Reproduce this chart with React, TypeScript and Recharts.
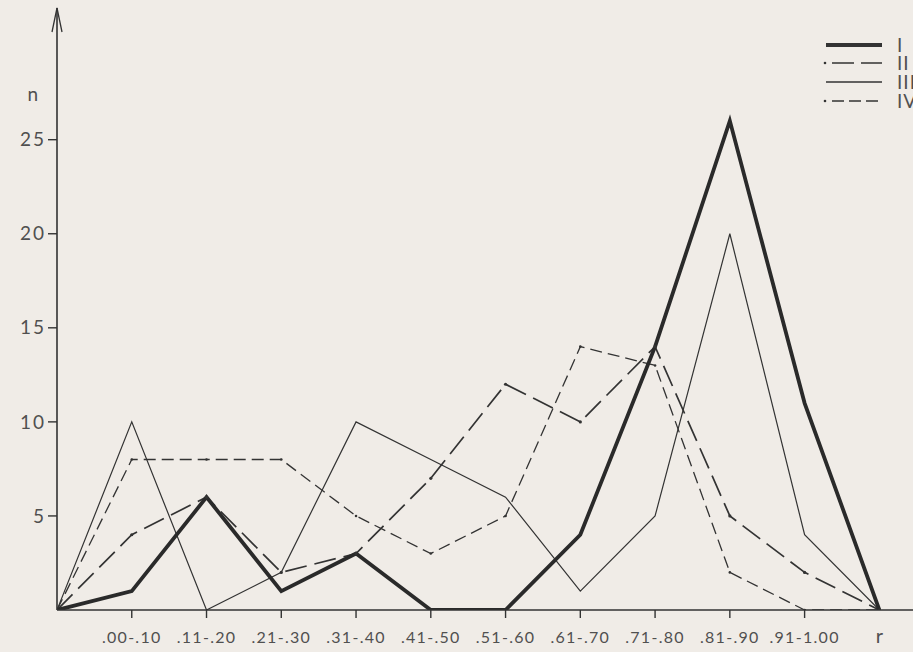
import React from 'react';
import { LineChart, Line, XAxis, YAxis, ReferenceDot } from 'recharts';

// positions 0..11: origin, ten r-classes, end point "r"
const categories = ['', '.00-.10', '.11-.20', '.21-.30', '.31-.40', '.41-.50', '.51-.60', '.61-.70', '.71-.80', '.81-.90', '.91-1.00', 'r'];
const seriesI = [0, 1, 6, 1, 3, 0, 0, 4, 14, 26, 11, 0];
const seriesII = [0, 4, 6, 2, 3, 7, 12, 10, 14, 5, 2, 0];
const seriesIII = [0, 10, 0, 2, 10, 8, 6, 1, 5, 20, 4, 0];
const seriesIV = [0, 8, 8, 8, 5, 3, 5, 14, 13, 2, 0, 0];
const yTicks = [5, 10, 15, 20, 25, 27.4];
const yTickLabels: Record<number, string> = { 5: '5', 10: '10', 15: '15', 20: '20', 25: '25', 27.4: 'n' };
const legendNames = ['I', 'II', 'III', 'IV'];

const data = categories.map((c, i) => ({
  x: i,
  I: seriesI[i],
  II: seriesII[i],
  III: seriesIII[i],
  IV: seriesIV[i],
}));

const ink = '#333';
const textColor = '#505050';
const font = 'Lato, "DejaVu Sans", sans-serif';

function XTick({ x, y, payload }: any) {
  const label = categories[payload.value];
  const isEnd = label === 'r';
  return (
    <g>
      {!isEnd && <line x1={x} y1={y} x2={x} y2={y + 8} stroke={ink} strokeWidth={1.4} />}
      <text
        x={x}
        y={y + 33}
        textAnchor="middle"
        fill={textColor}
        fontFamily={font}
        fontSize={isEnd ? 20 : 16}
        letterSpacing={isEnd ? 0 : 1.3}
      >
        {label}
      </text>
    </g>
  );
}

function YTick({ x, y, payload }: any) {
  const label = yTickLabels[payload.value];
  const isName = label === 'n';
  return (
    <g>
      {!isName && <line x1={x - 9} y1={y} x2={x} y2={y} stroke={ink} strokeWidth={1.4} />}
      <text
        x={isName ? x - 17 : x - 11}
        y={y}
        dy="0.35em"
        textAnchor="end"
        fill={textColor}
        fontFamily={font}
        fontSize={19}
        letterSpacing={2}
      >
        {label}
      </text>
    </g>
  );
}

function Arrow({ cx, cy }: any) {
  return (
    <path
      d={`M${cx - 5},${cy + 24} L${cx},${cy} L${cx + 5},${cy + 24}`}
      fill="none"
      stroke={ink}
      strokeWidth={1.3}
    />
  );
}

function LegendBox() {
  const rows = [
    { w: 4, dash: undefined, dot: false },
    { w: 1.6, dash: '22 7', dot: true },
    { w: 1.3, dash: undefined, dot: false },
    { w: 1.3, dash: '12 5', dot: true },
  ];
  const ys = [15, 33, 52, 71];
  return (
    <svg
      width={100}
      height={90}
      style={{ position: 'absolute', left: 822, top: 30, overflow: 'visible' }}
    >
      {rows.map((r, i) => (
        <g key={legendNames[i]}>
          {r.dot && <circle cx={3} cy={ys[i]} r={1.3} fill={ink} />}
          <line x1={r.dot ? 10 : 4} y1={ys[i]} x2={60} y2={ys[i]} stroke={ink} strokeWidth={r.w} strokeDasharray={r.dash} />
          <text x={75} y={ys[i]} dy="0.36em" fill={textColor} fontFamily={font} fontSize={19} letterSpacing={1}>
            {legendNames[i]}
          </text>
        </g>
      ))}
    </svg>
  );
}

export default function App() {
  return (
    <div
      style={{
        position: 'absolute',
        left: 0,
        top: 0,
        width: 913,
        height: 652,
        overflow: 'hidden',
        background: '#f0ece7',
      }}
    >
      <LineChart width={913} height={652} data={data} margin={{ top: 8, right: 0, bottom: 0, left: 0 }}>
        <XAxis
          dataKey="x"
          type="number"
          domain={[0, 11.45]}
          ticks={[1, 2, 3, 4, 5, 6, 7, 8, 9, 10, 11]}
          interval={0}
          tickSize={0}
          tickMargin={0}
          tickLine={false}
          tick={<XTick />}
          height={42}
          axisLine={{ stroke: ink, strokeWidth: 1.6 }}
          allowDataOverflow
        />
        <YAxis
          type="number"
          domain={[0, 32]}
          ticks={yTicks}
          interval={0}
          tickSize={0}
          tickMargin={0}
          tickLine={false}
          tick={<YTick />}
          width={57}
          axisLine={{ stroke: ink, strokeWidth: 1.6 }}
          allowDataOverflow
        />
        <ReferenceDot x={0} y={32} r={0} ifOverflow="visible" shape={<Arrow />} />
        <Line
          dataKey="IV"
          name="IV"
          type="linear"
          stroke={ink}
          strokeWidth={1.3}
          strokeDasharray="12 6"
          dot={{ r: 1.3, fill: ink, stroke: 'none' }}
          activeDot={false}
          isAnimationActive={false}
        />
        <Line
          dataKey="II"
          name="II"
          type="linear"
          stroke={ink}
          strokeWidth={1.7}
          strokeDasharray="22 8"
          dot={{ r: 1.6, fill: ink, stroke: 'none' }}
          activeDot={false}
          isAnimationActive={false}
        />
        <Line
          dataKey="III"
          name="III"
          type="linear"
          stroke={ink}
          strokeWidth={1.2}
          dot={false}
          activeDot={false}
          isAnimationActive={false}
        />
        <Line
          dataKey="I"
          name="I"
          type="linear"
          stroke="#2a2a2a"
          strokeWidth={3.8}
          strokeLinejoin="miter"
          dot={false}
          activeDot={false}
          isAnimationActive={false}
        />
      </LineChart>
      <LegendBox />
    </div>
  );
}
